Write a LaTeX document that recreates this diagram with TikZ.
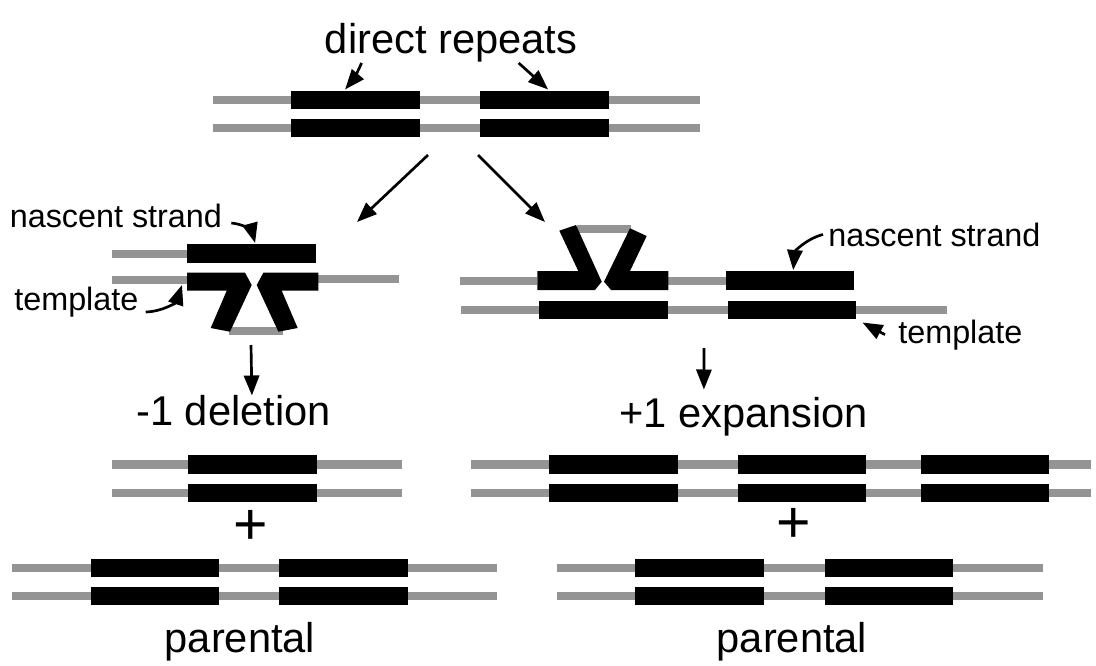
\documentclass[tikz,border=0pt]{standalone}
\usepackage{fontspec}
\setmainfont{Liberation Sans}
\usetikzlibrary{arrows.meta}

\begin{document}
\begin{tikzpicture}[x=0.025cm,y=-0.025cm,line width=1.9pt,
  >={Triangle[length=0.5cm,width=0.38cm]},
  flank/.style={draw=black!42,line width=0.21cm},
  rep/.style={fill=black,inner sep=0pt,minimum width=3.2cm,minimum height=0.46cm},
  big/.style={font=\fontsize{29.6}{34}\selectfont,inner sep=0pt},
  small/.style={font=\fontsize{23}{27}\selectfont,inner sep=0pt},
  plus/.style={font=\fontsize{42}{48}\selectfont,inner sep=0pt}]
  \useasboundingbox[fill=white] (0,0) rectangle (1096,665);

  % starting duplex
  \draw[flank] (213,100) -- (700,100);
  \draw[flank] (213,128) -- (700,128);
  \node[rep] (ra1) at (355.5,100) {};
  \node[rep] (ra2) at (544.5,100) {};
  \node[rep] (rb1) at (355.5,128) {};
  \node[rep] (rb2) at (544.5,128) {};
  \node[big,anchor=base] (drep) at (451,53) {direct repeats};
  \draw[->] ([xshift=0.95cm]drep.south west) to[bend left=8] ([xshift=-0.26cm]ra1.north);
  \draw[->] ([xshift=4.875cm]drep.south west) -- ([xshift=0.09cm]ra2.north);

  \coordinate (forkL) at (428,155);
  \coordinate (forkR) at (478,155);
  \coordinate (inL) at (357,222);
  \coordinate (inR) at (545,222);
  \draw[->] (forkL) -- (inL);
  \draw[->] (forkR) -- (inR);

  % loop in the template
  \draw[flank] (112,254) -- (187,254);
  \draw[flank] (112,280) -- (187,280);
  \draw[flank] (318,279) -- (399,279);
  \draw[flank] (229,331) -- (283,331);
  \node[rep] (ln) at (251.5,253.5) {};
  \fill (187,272.7) -- (245,272.7) -- (251.7,285) -- (230,331.7) -- (210.7,328)
    -- (226.7,290.7) -- (187,290.7) -- cycle;
  \fill (263.4,272.7) -- (318.3,272.7) -- (318.3,290.7) -- (281.7,290.7)
    -- (297.7,328) -- (278.4,331.7) -- (256.7,285) -- cycle;
  \coordinate (lt) at (182,285);
  \node[small,anchor=base west] (nsL) at (8.5,227) {nascent strand};
  \node[small,anchor=base west] (tmL) at (13,310) {template};
  \draw[->] ([xshift=0.2cm,yshift=0.1cm]nsL.base east) to[bend left=35] ([xshift=0.09cm]ln.north);
  \draw[->] ([xshift=0.15cm,yshift=-0.05cm]tmL.base east) to[bend right=35] (lt);

  % loop in the nascent strand
  \draw[flank] (460,281) -- (537,281);
  \draw[flank] (668,281) -- (727,281);
  \draw[flank] (577,229) -- (631,229);
  \draw[flank] (461,310) -- (540,310);
  \draw[flank] (667,310) -- (728,310);
  \draw[flank] (856,310) -- (947,310);
  \fill (537.3,271) -- (578.3,271) -- (559.3,230.7) -- (576,225) -- (601.7,281.7)
    -- (595,290) -- (537.3,290) -- cycle;
  \fill (604,281.7) -- (630,228.3) -- (646.7,236) -- (630,271) -- (668.3,271)
    -- (668.3,290) -- (611,290) -- cycle;
  \node[rep] (rn) at (790,280.5) {};
  \node[rep] (rt1) at (603.5,310) {};
  \node[rep] (rt2) at (792,310) {};
  \node[small,anchor=base west] (nsR) at (827,246) {nascent strand};
  \node[small,anchor=base west] (tmR) at (897,343) {template};
  \draw[->] ([xshift=-0.1cm]nsR.west) to[bend right=35] ([xshift=0.08cm]rn.north);
  \draw[->] ([xshift=-0.3cm]tmR.west) -- ([xshift=0.13cm,yshift=-0.05cm]rt2.south east);

  \coordinate (outL) at (251,345);
  \coordinate (outR) at (704,348);
  \node[big,anchor=base west] (del) at (135,425) {-1 deletion};
  \node[big,anchor=base] (exp) at (743.5,427) {+1 expansion};
  \draw[->] (outL) -- ([xshift=0.46cm,yshift=-0.05cm]del.north);
  \draw[->] (outR) -- ([xshift=-0.99cm,yshift=0.15cm]exp.north);

  % products
  \draw[flank] (112,464.5) -- (402,464.5);
  \draw[flank] (112,493) -- (402,493);
  \node[rep] (dl1) at (252.5,464.5) {};
  \node[rep] (dl2) at (252.5,493) {};
  \node[plus] (plusL) at (251,527) {+};
  \draw[flank] (12,568) -- (497,568);
  \draw[flank] (12,596) -- (497,596);
  \node[rep] (pl1) at (154.75,568) {};
  \node[rep] (pl2) at (343.5,568) {};
  \node[rep] (pl3) at (154.75,596) {};
  \node[rep] (pl4) at (343.5,596) {};
  \node[big,anchor=base] (parL) at (240,652) {parental};

  \draw[flank] (471,464.5) -- (1091,464.5);
  \draw[flank] (471,493) -- (1091,493);
  \node[rep] (ex1) at (613.5,464.5) {};
  \node[rep] (ex2) at (802,464.5) {};
  \node[rep] (ex3) at (985,464.5) {};
  \node[rep] (ex4) at (613.5,493) {};
  \node[rep] (ex5) at (802,493) {};
  \node[rep] (ex6) at (985,493) {};
  \node[plus] (plusR) at (794,525) {+};
  \draw[flank] (557,568) -- (1043,568);
  \draw[flank] (557,596) -- (1043,596);
  \node[rep] (pr1) at (699.5,568) {};
  \node[rep] (pr2) at (889,568) {};
  \node[rep] (pr3) at (699.5,596) {};
  \node[rep] (pr4) at (889,596) {};
  \node[big,anchor=base] (parR) at (792,652) {parental};
\end{tikzpicture}
\end{document}
